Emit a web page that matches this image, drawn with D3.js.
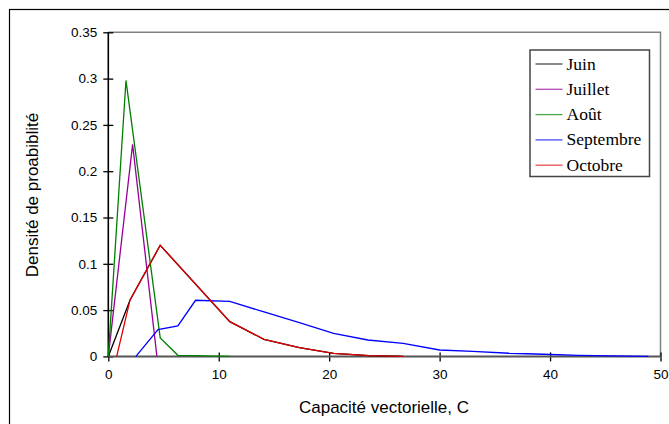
<!DOCTYPE html>
<html><head><meta charset="utf-8">
<script src="https://cdn.jsdelivr.net/npm/d3@7"></script>
<style>body{margin:0;background:#fff}svg{display:block}</style>
</head><body>
<svg id="c" width="669" height="424"></svg>
<script>
const seriesNames = ["Juin", "Juillet", "Août", "Septembre", "Octobre"];
const seriesColors = ["#000000", "#990099", "#008000", "#0000ff", "#e00000"];
const juinX = [0, 1.97, 4.7, 11.0, 14.1, 17.3, 20.4, 23.6, 26.7];
const juinY = [0, 0.061, 0.12, 0.0375, 0.0185, 0.0094, 0.0033, 0.0008, 0];
const juilletX = [0, 2.2, 4.4];
const juilletY = [0, 0.229, 0];
const aoutX = [0, 1.6, 4.7, 6.3, 7.9, 9.4, 11.0];
const aoutY = [0, 0.298, 0.02, 0.0012, 0.0008, 0.0004, 0];
const septX = [2.5, 4.5, 6.3, 7.9, 11.0, 14.1, 17.3, 20.4, 23.5, 26.7, 30.0, 33.0, 36.3, 39.4, 42.6, 45.7, 48.9];
const septY = [0, 0.029, 0.033, 0.0606, 0.0595, 0.048, 0.0364, 0.0249, 0.0177, 0.0141, 0.0069, 0.0055, 0.0034, 0.0023, 0.001, 0.0005, 0];
const octX = [0.76, 1.97, 4.7, 11.0, 14.1, 17.3, 20.4, 23.6, 26.7];
const octY = [0, 0.061, 0.12, 0.0375, 0.0185, 0.0094, 0.0033, 0.0008, 0];
const xTicks = [0, 10, 20, 30, 40, 50];
const yTicks = [0, 0.05, 0.1, 0.15, 0.2, 0.25, 0.3, 0.35];
const yTickLabels = ["0", "0.05", "0.1", "0.15", "0.2", "0.25", "0.3", "0.35"];
const xTitle = "Capacité vectorielle, C";
const yTitle = "Densité de proabiblité";

const seriesX = [juinX, juilletX, aoutX, septX, octX];
const seriesY = [juinY, juilletY, aoutY, septY, octY];

const svg = d3.select("#c");
const L = 108.3, R = 660.5, T = 32.3, B = 356.4;
const x = d3.scaleLinear().domain([0, 50]).range([L, R]);
const y = d3.scaleLinear().domain([0, 0.35]).range([B, T]);

// outer chart border
svg.append("rect").attr("x", 9.5).attr("y", 9.5).attr("width", 700).attr("height", 500)
  .attr("fill", "#fff").attr("stroke", "#000").attr("stroke-width", 1.2);

// plot area border (top & right)
svg.append("path").attr("d", `M${L},${T}H${R}V${B}`).attr("fill", "none")
  .attr("stroke", "#808080").attr("stroke-width", 1.5);

// axes
const yAxis = d3.axisLeft(y).tickValues(yTicks).tickFormat((d, i) => yTickLabels[i]).tickSizeInner(0).tickSizeOuter(0).tickPadding(11);
const gy = svg.append("g").attr("transform", `translate(${L},0)`).call(yAxis);
gy.select(".domain").remove();
gy.selectAll("text").attr("font-family", "Liberation Sans, Arial, sans-serif").attr("font-size", 13.5).attr("fill", "#000");
gy.selectAll(".tick").append("line").attr("x1", -5).attr("x2", 5).attr("stroke", "#000").attr("stroke-width", 1.3);

const xAxis = d3.axisBottom(x).tickValues(xTicks).tickSizeInner(0).tickSizeOuter(0).tickPadding(13);
const gx = svg.append("g").attr("transform", `translate(0,${B})`).call(xAxis);
gx.select(".domain").remove();
gx.selectAll("text").attr("font-family", "Liberation Sans, Arial, sans-serif").attr("font-size", 13.5).attr("fill", "#000");
gx.selectAll(".tick").append("line").attr("y1", -4).attr("y2", 5).attr("stroke", "#000").attr("stroke-width", 1.3);

svg.append("line").attr("x1", L).attr("x2", R).attr("y1", B).attr("y2", B).attr("stroke", "#555").attr("stroke-width", 2);
svg.append("line").attr("x1", L).attr("x2", L).attr("y1", T).attr("y2", B).attr("stroke", "#000").attr("stroke-width", 1.6);

// series
const line = d3.line().x(d => x(d[0])).y(d => y(d[1]));
seriesNames.forEach((name, i) => {
  const pts = seriesX[i].map((v, j) => [v, seriesY[i][j]]);
  svg.append("path").datum(pts).attr("d", line).attr("fill", "none")
    .attr("stroke", seriesColors[i]).attr("stroke-width", 1.3);
});

// titles
svg.append("text").attr("x", 384).attr("y", 413).attr("text-anchor", "middle")
  .attr("font-family", "Liberation Sans, Arial, sans-serif").attr("font-size", 17).text(xTitle);
svg.append("text").attr("transform", "translate(38,195) rotate(-90)").attr("text-anchor", "middle")
  .attr("font-family", "Liberation Sans, Arial, sans-serif").attr("font-size", 17).text(yTitle);

// legend
const lg = svg.append("g");
lg.append("rect").attr("x", 530).attr("y", 50).attr("width", 119.5).attr("height", 126.5)
  .attr("fill", "#fff").attr("stroke", "#444").attr("stroke-width", 1.5);
seriesNames.forEach((name, i) => {
  const yy = 64 + i * 25.3;
  lg.append("line").attr("x1", 535.5).attr("x2", 562.5).attr("y1", yy).attr("y2", yy)
    .attr("stroke", seriesColors[i]).attr("stroke-width", 1.3).attr("opacity", 0.7);
  lg.append("text").attr("x", 566.5).attr("y", yy + 5.5).attr("font-family", "Liberation Serif, Times New Roman, serif")
    .attr("font-size", 17.5).text(name);
});
</script>
</body></html>
